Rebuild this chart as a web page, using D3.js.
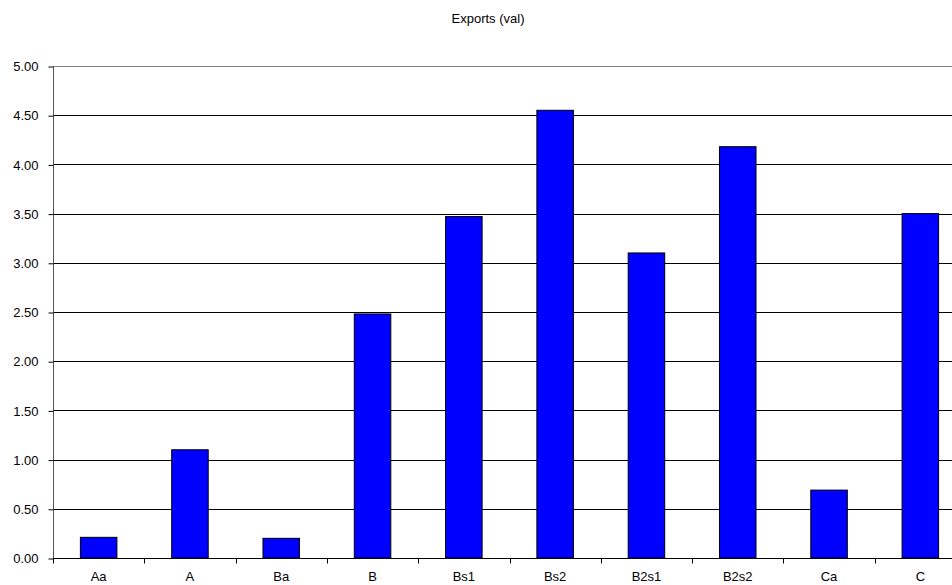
<!DOCTYPE html>
<html>
<head>
<meta charset="utf-8">
<script src="https://cdn.jsdelivr.net/npm/d3@7/dist/d3.min.js"></script>
<style>
  html, body { margin: 0; padding: 0; background: #fff; }
  svg { display: block; font-family: "Liberation Sans", Arial, sans-serif; }
</style>
</head>
<body>
<svg id="chart" width="952" height="585"></svg>
<script>
const categories = ["Aa", "A", "Ba", "B", "Bs1", "Bs2", "B2s1", "B2s2", "Ca", "C"];
const exportsVal = [0.21, 1.10, 0.20, 2.48, 3.47, 4.55, 3.10, 4.18, 0.69, 3.50];
const yTicks = [0, 0.5, 1, 1.5, 2, 2.5, 3, 3.5, 4, 4.5, 5];
const chartTitle = "Exports (val)";

const svg = d3.select("#chart");
const plotLeft = 53, plotRight = 966, plotTop = 66, plotBottom = 558;
const fontSize = 13;

const x = d3.scaleBand().domain(categories).range([plotLeft, plotRight]).paddingInner(0).paddingOuter(0);
const y = d3.scaleLinear().domain([0, 5]).range([plotBottom, plotTop]);

// horizontal gridlines
svg.append("g").selectAll("line").data(yTicks.filter(d => d > 0)).join("line")
  .attr("x1", plotLeft).attr("x2", plotRight)
  .attr("y1", d => Math.round(y(d)) + 0.5).attr("y2", d => Math.round(y(d)) + 0.5)
  .attr("stroke", d => d === 5 ? "#808080" : "#000").attr("stroke-width", 1);

// bars: Excel-style gap width of 150%
const barW = x.bandwidth() / 2.5;
svg.append("g").selectAll("rect").data(categories).join("rect")
  .attr("x", (d) => x(d) + (x.bandwidth() - barW) / 2)
  .attr("y", (d, i) => y(exportsVal[i]))
  .attr("width", barW)
  .attr("height", (d, i) => y(0) - y(exportsVal[i]))
  .attr("fill", "#0000ff")
  .attr("stroke", "#000").attr("stroke-width", 1);

// y axis
const yAxis = d3.axisLeft(y).tickValues(yTicks).tickFormat(d3.format(".2f")).tickSize(5).tickPadding(10);
const gy = svg.append("g").attr("transform", `translate(${plotLeft + 0.5},0.5)`).call(yAxis);
gy.select(".domain").attr("stroke", "#555").attr("d", `M0,${plotTop}V${plotBottom}`);
gy.selectAll(".tick line").attr("stroke", "#000");
gy.selectAll("text").attr("font-size", fontSize).attr("fill", "#000")
  .attr("font-family", "Liberation Sans, Arial, sans-serif");

// x axis: ticks at category boundaries
const gx = svg.append("g").attr("transform", `translate(0,${plotBottom + 0.5})`);
gx.append("line").attr("x1", plotLeft).attr("x2", plotRight).attr("stroke", "#000");
const bounds = categories.map(c => x(c)).concat([plotRight]);
gx.selectAll("line.tk").data(bounds).join("line").attr("class", "tk")
  .attr("x1", d => Math.round(d) + 0.5).attr("x2", d => Math.round(d) + 0.5)
  .attr("y1", 0).attr("y2", 5).attr("stroke", "#000");
gx.selectAll("text").data(categories).join("text")
  .attr("x", d => x(d) + x.bandwidth() / 2)
  .attr("y", 22)
  .attr("text-anchor", "middle")
  .attr("font-size", fontSize).attr("fill", "#000")
  .text(d => d);

// title
svg.append("text").attr("x", 488).attr("y", 23)
  .attr("text-anchor", "middle").attr("font-size", fontSize).attr("fill", "#000")
  .text(chartTitle);
</script>
</body>
</html>
